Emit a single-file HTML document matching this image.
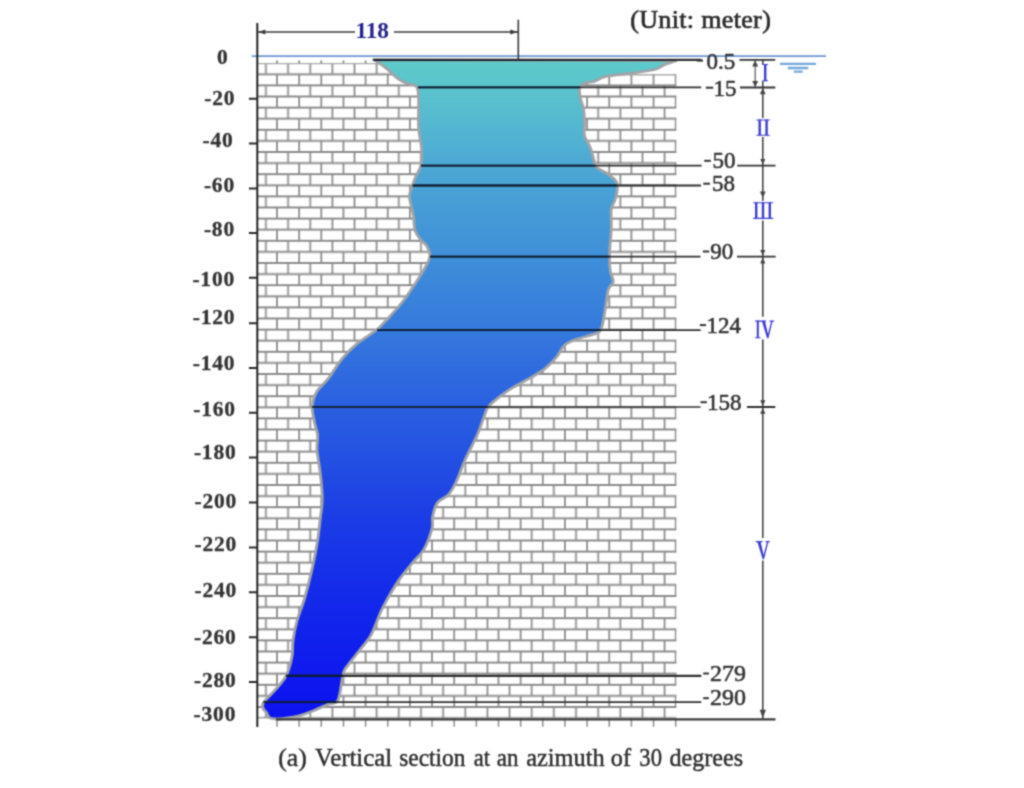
<!DOCTYPE html>
<html><head><meta charset="utf-8"><title>Vertical section at an azimuth of 30 degrees</title>
<style>
html,body{margin:0;padding:0;background:#fff;}
body{width:1024px;height:788px;overflow:hidden;font-family:"Liberation Serif",serif;}
svg{display:block;}
text{font-family:"Liberation Serif",serif;}
</style></head><body>
<svg width="1024" height="788" viewBox="0 0 1024 788">
<defs>
<linearGradient id="water" gradientUnits="userSpaceOnUse" x1="0" y1="59" x2="0" y2="719"><stop offset="0.0000" stop-color="#5dcaca"/><stop offset="0.0439" stop-color="#5ac4cc"/><stop offset="0.0924" stop-color="#55b9d0"/><stop offset="0.1621" stop-color="#4ca8d4"/><stop offset="0.2136" stop-color="#479fd5"/><stop offset="0.2985" stop-color="#3f8fd8"/><stop offset="0.4106" stop-color="#3579dd"/><stop offset="0.5273" stop-color="#2a5fe0"/><stop offset="0.6076" stop-color="#2350e2"/><stop offset="0.6985" stop-color="#1b3ce6"/><stop offset="0.8197" stop-color="#1329ea"/><stop offset="0.9348" stop-color="#0e19ee"/><stop offset="1.0000" stop-color="#0c12f0"/></linearGradient>
<pattern id="brick" x="11.20" y="63.20" width="22.15" height="22.2" patternUnits="userSpaceOnUse">
<path d="M0,0 H22.15 M0,22.2 H22.15 M0,11.1 H22.15 M11.075,0 V11.1 M0,11.1 V22.2 M22.15,11.1 V22.2" stroke="#8a8a8a" stroke-width="1.75" fill="none"/>
</pattern>
<filter id="soft" x="0" y="0" width="1024" height="788" filterUnits="userSpaceOnUse" color-interpolation-filters="sRGB"><feConvolveMatrix order="3" kernelMatrix="0.1299 0.3604 0.1299 0.3604 1 0.3604 0.1299 0.3604 0.1299" edgeMode="duplicate" preserveAlpha="false"/></filter>
<clipPath id="cavein"><path d="M373.7,59.8 C374.6,60.3 377.1,61.7 379.0,63.0 C380.9,64.3 383.2,65.8 385.4,67.6 C387.6,69.3 389.7,71.5 392.0,73.5 C394.3,75.5 396.5,77.6 399.0,79.3 C401.5,81.0 404.1,82.3 407.0,83.5 C409.9,84.7 414.7,84.2 416.6,86.7 C418.5,89.2 418.3,91.9 418.6,98.8 C418.9,105.7 418.1,119.9 418.6,128.0 C419.1,136.1 421.1,141.4 421.5,147.6 C421.9,153.8 421.9,160.3 421.0,165.0 C420.1,169.7 417.4,172.7 416.0,176.0 C414.6,179.3 413.8,181.5 412.7,184.8 C411.6,188.1 409.7,192.2 409.4,195.6 C409.1,199.0 410.4,201.7 411.0,205.0 C411.6,208.3 412.6,210.9 413.3,215.2 C414.0,219.5 413.9,226.7 415.2,230.8 C416.5,234.9 419.0,237.4 421.0,240.0 C423.0,242.6 425.5,243.7 427.0,246.4 C428.5,249.1 430.2,252.6 429.9,256.2 C429.6,259.8 427.4,263.3 425.0,267.9 C422.6,272.4 419.1,277.6 415.2,283.5 C411.3,289.4 406.5,296.8 401.6,303.0 C396.7,309.2 390.0,316.2 385.9,320.6 C381.8,325.0 381.9,325.7 377.2,329.5 C372.5,333.3 363.6,338.3 357.7,343.2 C351.8,348.1 346.9,352.9 342.0,358.8 C337.1,364.7 332.6,372.9 328.4,378.4 C324.2,383.9 319.3,387.3 316.6,392.0 C313.9,396.7 312.6,401.5 312.3,406.7 C312.0,411.9 313.8,418.6 314.7,423.3 C315.6,428.0 317.2,430.6 317.6,435.0 C318.0,439.4 316.6,443.6 317.0,450.0 C317.4,456.4 319.4,465.3 320.3,473.4 C321.2,481.5 322.3,491.3 322.3,498.8 C322.3,506.3 321.1,511.2 320.3,518.4 C319.5,525.6 318.7,533.7 317.4,541.8 C316.1,549.9 314.6,557.8 312.5,567.2 C310.4,576.6 307.3,589.0 304.7,598.0 C302.1,607.0 298.8,614.2 296.9,621.3 C294.9,628.4 293.8,634.9 293.0,640.8 C292.2,646.6 293.1,650.5 292.0,656.4 C290.9,662.2 288.9,670.4 286.1,675.9 C283.3,681.4 279.1,685.2 275.4,689.6 C271.7,694.0 265.7,699.1 263.7,702.3 C261.7,705.4 262.7,706.8 263.2,708.5 C263.7,710.2 265.4,711.0 266.5,712.5 C267.6,714.0 267.7,716.5 269.5,717.6 C271.3,718.7 274.2,718.9 277.3,719.0 C280.4,719.1 284.1,718.6 288.0,718.0 C291.9,717.4 296.5,716.5 300.8,715.3 C305.1,714.0 309.4,712.3 314.0,710.5 C318.6,708.7 324.1,706.0 328.1,704.3 C332.1,702.6 335.4,705.1 337.9,700.4 C340.3,695.7 341.5,681.4 342.8,676.0 C344.1,670.6 342.9,672.4 345.7,668.1 C348.5,663.9 355.2,656.0 359.4,650.5 C363.6,645.0 367.5,641.4 371.1,634.9 C374.7,628.4 378.1,617.6 380.9,611.5 C383.7,605.4 385.1,603.1 388.0,598.0 C390.9,592.9 394.4,586.7 398.4,580.9 C402.4,575.1 407.9,568.5 412.1,563.3 C416.3,558.1 420.5,555.3 423.8,549.6 C427.1,543.9 430.5,534.4 432.0,528.9 C433.5,523.4 431.7,520.9 432.6,516.6 C433.5,512.3 434.8,506.5 437.4,502.9 C440.0,499.2 445.2,498.3 448.4,494.7 C451.6,491.1 453.9,486.7 456.6,481.0 C459.3,475.3 461.4,468.2 464.8,460.5 C468.2,452.8 473.9,442.5 477.2,435.0 C480.5,427.5 482.6,420.2 484.5,415.5 C486.4,410.8 486.1,409.6 488.4,406.7 C490.7,403.8 494.2,401.0 498.1,397.9 C502.0,394.8 506.6,391.4 511.8,388.1 C517.0,384.9 523.9,381.6 529.4,378.4 C534.9,375.1 540.5,372.2 545.0,368.6 C549.5,365.0 553.5,360.8 556.7,356.9 C560.0,353.0 561.2,348.1 564.5,345.2 C567.8,342.3 571.1,341.3 576.3,339.3 C581.5,337.3 591.6,335.3 595.8,333.4 C600.0,331.4 600.0,332.0 601.6,327.6 C603.2,323.2 604.4,313.4 605.5,307.0 C606.6,300.6 607.1,293.6 608.4,289.4 C609.7,285.2 613.0,284.5 613.3,281.6 C613.6,278.7 611.0,276.0 610.4,271.8 C609.8,267.6 609.2,263.4 609.4,256.2 C609.5,249.0 611.0,236.6 611.3,228.8 C611.6,221.0 610.6,214.2 611.3,209.3 C611.9,204.4 614.2,203.3 615.2,199.5 C616.2,195.7 617.4,189.8 617.5,186.7 C617.6,183.6 617.3,183.0 615.7,180.9 C614.1,178.8 611.1,176.3 607.9,174.0 C604.6,171.7 598.5,169.3 596.2,167.2 C593.9,165.1 595.2,164.6 594.2,161.3 C593.2,158.1 591.9,151.9 590.3,147.7 C588.7,143.5 585.5,140.1 584.5,135.9 C583.5,131.7 584.7,126.8 584.5,122.3 C584.3,117.8 584.2,112.5 583.5,108.6 C582.8,104.7 581.1,102.2 580.5,98.8 C579.9,95.4 578.9,90.7 579.6,88.1 C580.3,85.5 582.1,84.3 584.5,83.2 C586.9,82.1 590.6,82.4 594.2,81.3 C597.8,80.2 600.0,77.7 605.9,76.4 C611.8,75.1 621.2,74.6 629.4,73.4 C637.5,72.2 648.9,71.0 654.8,69.5 C660.6,68.0 660.9,66.1 664.5,64.6 C668.1,63.1 674.3,61.4 676.3,60.7 Z"/></clipPath>
</defs>
<rect width="1024" height="788" fill="#fff"/>
<g filter="url(#soft)">

<path d="M257.3,63.2 H600 V74.3 H676.4000000000001 V718.4 H257.3 Z" fill="url(#brick)"/>
<path d="M365.60,60.4 V63.2 M343.45,60.4 V63.2 M321.30,60.4 V63.2 M299.15,60.4 V63.2 M277.00,60.4 V63.2 " stroke="#8a8a8a" stroke-width="1.75" fill="none"/>
<path d="M675.70,719 V726.8 M653.55,719 V726.8 M631.40,719 V726.8 M609.25,719 V726.8 M587.10,719 V726.8 M564.95,719 V726.8 M542.80,719 V726.8 M520.65,719 V726.8 M498.50,719 V726.8 M476.35,719 V726.8 M454.20,719 V726.8 M432.05,719 V726.8 M409.90,719 V726.8 M387.75,719 V726.8 M365.60,719 V726.8 M343.45,719 V726.8 M321.30,719 V726.8 M299.15,719 V726.8 M277.00,719 V726.8 " stroke="#8e8e8e" stroke-width="1.5" fill="none"/>
<path d="M373.7,59.8 C374.6,60.3 377.1,61.7 379.0,63.0 C380.9,64.3 383.2,65.8 385.4,67.6 C387.6,69.3 389.7,71.5 392.0,73.5 C394.3,75.5 396.5,77.6 399.0,79.3 C401.5,81.0 404.1,82.3 407.0,83.5 C409.9,84.7 414.7,84.2 416.6,86.7 C418.5,89.2 418.3,91.9 418.6,98.8 C418.9,105.7 418.1,119.9 418.6,128.0 C419.1,136.1 421.1,141.4 421.5,147.6 C421.9,153.8 421.9,160.3 421.0,165.0 C420.1,169.7 417.4,172.7 416.0,176.0 C414.6,179.3 413.8,181.5 412.7,184.8 C411.6,188.1 409.7,192.2 409.4,195.6 C409.1,199.0 410.4,201.7 411.0,205.0 C411.6,208.3 412.6,210.9 413.3,215.2 C414.0,219.5 413.9,226.7 415.2,230.8 C416.5,234.9 419.0,237.4 421.0,240.0 C423.0,242.6 425.5,243.7 427.0,246.4 C428.5,249.1 430.2,252.6 429.9,256.2 C429.6,259.8 427.4,263.3 425.0,267.9 C422.6,272.4 419.1,277.6 415.2,283.5 C411.3,289.4 406.5,296.8 401.6,303.0 C396.7,309.2 390.0,316.2 385.9,320.6 C381.8,325.0 381.9,325.7 377.2,329.5 C372.5,333.3 363.6,338.3 357.7,343.2 C351.8,348.1 346.9,352.9 342.0,358.8 C337.1,364.7 332.6,372.9 328.4,378.4 C324.2,383.9 319.3,387.3 316.6,392.0 C313.9,396.7 312.6,401.5 312.3,406.7 C312.0,411.9 313.8,418.6 314.7,423.3 C315.6,428.0 317.2,430.6 317.6,435.0 C318.0,439.4 316.6,443.6 317.0,450.0 C317.4,456.4 319.4,465.3 320.3,473.4 C321.2,481.5 322.3,491.3 322.3,498.8 C322.3,506.3 321.1,511.2 320.3,518.4 C319.5,525.6 318.7,533.7 317.4,541.8 C316.1,549.9 314.6,557.8 312.5,567.2 C310.4,576.6 307.3,589.0 304.7,598.0 C302.1,607.0 298.8,614.2 296.9,621.3 C294.9,628.4 293.8,634.9 293.0,640.8 C292.2,646.6 293.1,650.5 292.0,656.4 C290.9,662.2 288.9,670.4 286.1,675.9 C283.3,681.4 279.1,685.2 275.4,689.6 C271.7,694.0 265.7,699.1 263.7,702.3 C261.7,705.4 262.7,706.8 263.2,708.5 C263.7,710.2 265.4,711.0 266.5,712.5 C267.6,714.0 267.7,716.5 269.5,717.6 C271.3,718.7 274.2,718.9 277.3,719.0 C280.4,719.1 284.1,718.6 288.0,718.0 C291.9,717.4 296.5,716.5 300.8,715.3 C305.1,714.0 309.4,712.3 314.0,710.5 C318.6,708.7 324.1,706.0 328.1,704.3 C332.1,702.6 335.4,705.1 337.9,700.4 C340.3,695.7 341.5,681.4 342.8,676.0 C344.1,670.6 342.9,672.4 345.7,668.1 C348.5,663.9 355.2,656.0 359.4,650.5 C363.6,645.0 367.5,641.4 371.1,634.9 C374.7,628.4 378.1,617.6 380.9,611.5 C383.7,605.4 385.1,603.1 388.0,598.0 C390.9,592.9 394.4,586.7 398.4,580.9 C402.4,575.1 407.9,568.5 412.1,563.3 C416.3,558.1 420.5,555.3 423.8,549.6 C427.1,543.9 430.5,534.4 432.0,528.9 C433.5,523.4 431.7,520.9 432.6,516.6 C433.5,512.3 434.8,506.5 437.4,502.9 C440.0,499.2 445.2,498.3 448.4,494.7 C451.6,491.1 453.9,486.7 456.6,481.0 C459.3,475.3 461.4,468.2 464.8,460.5 C468.2,452.8 473.9,442.5 477.2,435.0 C480.5,427.5 482.6,420.2 484.5,415.5 C486.4,410.8 486.1,409.6 488.4,406.7 C490.7,403.8 494.2,401.0 498.1,397.9 C502.0,394.8 506.6,391.4 511.8,388.1 C517.0,384.9 523.9,381.6 529.4,378.4 C534.9,375.1 540.5,372.2 545.0,368.6 C549.5,365.0 553.5,360.8 556.7,356.9 C560.0,353.0 561.2,348.1 564.5,345.2 C567.8,342.3 571.1,341.3 576.3,339.3 C581.5,337.3 591.6,335.3 595.8,333.4 C600.0,331.4 600.0,332.0 601.6,327.6 C603.2,323.2 604.4,313.4 605.5,307.0 C606.6,300.6 607.1,293.6 608.4,289.4 C609.7,285.2 613.0,284.5 613.3,281.6 C613.6,278.7 611.0,276.0 610.4,271.8 C609.8,267.6 609.2,263.4 609.4,256.2 C609.5,249.0 611.0,236.6 611.3,228.8 C611.6,221.0 610.6,214.2 611.3,209.3 C611.9,204.4 614.2,203.3 615.2,199.5 C616.2,195.7 617.4,189.8 617.5,186.7 C617.6,183.6 617.3,183.0 615.7,180.9 C614.1,178.8 611.1,176.3 607.9,174.0 C604.6,171.7 598.5,169.3 596.2,167.2 C593.9,165.1 595.2,164.6 594.2,161.3 C593.2,158.1 591.9,151.9 590.3,147.7 C588.7,143.5 585.5,140.1 584.5,135.9 C583.5,131.7 584.7,126.8 584.5,122.3 C584.3,117.8 584.2,112.5 583.5,108.6 C582.8,104.7 581.1,102.2 580.5,98.8 C579.9,95.4 578.9,90.7 579.6,88.1 C580.3,85.5 582.1,84.3 584.5,83.2 C586.9,82.1 590.6,82.4 594.2,81.3 C597.8,80.2 600.0,77.7 605.9,76.4 C611.8,75.1 621.2,74.6 629.4,73.4 C637.5,72.2 648.9,71.0 654.8,69.5 C660.6,68.0 660.9,66.1 664.5,64.6 C668.1,63.1 674.3,61.4 676.3,60.7 Z" fill="url(#water)" stroke="#a0a3a8" stroke-width="2.8" stroke-linejoin="round"/>
<line x1="251.7" y1="56.1" x2="826" y2="56.1" stroke="#6b96cf" stroke-width="1.7"/>
<line x1="373" y1="59.9" x2="701.5" y2="59.9" stroke="#303030" stroke-width="2.1"/>
<line x1="418" y1="87.3" x2="701.2" y2="87.3" stroke="#303030" stroke-width="1.7"/>
<line x1="421" y1="165.7" x2="701.6" y2="165.7" stroke="#303030" stroke-width="1.7"/>
<line x1="412.5" y1="185.4" x2="701" y2="185.4" stroke="#303030" stroke-width="2.0"/>
<line x1="430" y1="256.6" x2="700.5" y2="256.6" stroke="#303030" stroke-width="1.7"/>
<line x1="377" y1="330.1" x2="700.7" y2="330.1" stroke="#303030" stroke-width="1.7"/>
<line x1="312" y1="407.0" x2="700.5" y2="407.0" stroke="#303030" stroke-width="1.7"/>
<line x1="286" y1="675.9" x2="701.3" y2="675.9" stroke="#303030" stroke-width="2.2"/>
<line x1="263.5" y1="702.1" x2="701.3" y2="702.1" stroke="#303030" stroke-width="1.9"/>
<g clip-path="url(#cavein)"><line x1="373" y1="59.9" x2="701.5" y2="59.9" stroke="#0a1c34" stroke-width="2.1"/><line x1="418" y1="87.3" x2="701.2" y2="87.3" stroke="#0a1c34" stroke-width="1.7"/><line x1="421" y1="165.7" x2="701.6" y2="165.7" stroke="#0a1c34" stroke-width="1.7"/><line x1="412.5" y1="185.4" x2="701" y2="185.4" stroke="#0a1c34" stroke-width="2.0"/><line x1="430" y1="256.6" x2="700.5" y2="256.6" stroke="#0a1c34" stroke-width="1.7"/><line x1="377" y1="330.1" x2="700.7" y2="330.1" stroke="#0a1c34" stroke-width="1.7"/><line x1="312" y1="407.0" x2="700.5" y2="407.0" stroke="#0a1c34" stroke-width="1.7"/><line x1="286" y1="675.9" x2="701.3" y2="675.9" stroke="#0a1c34" stroke-width="2.2"/><line x1="263.5" y1="702.1" x2="701.3" y2="702.1" stroke="#0a1c34" stroke-width="1.9"/></g>
<line x1="276" y1="719.4" x2="775.5" y2="719.4" stroke="#3a3a3a" stroke-width="2.2"/>
<line x1="257.3" y1="23" x2="257.3" y2="727" stroke="#222" stroke-width="2"/>
<path d="M248.9,98.7 H257.3 M248.9,143.5 H257.3 M248.9,188.5 H257.3 M248.9,233.1 H257.3 M248.9,277.7 H257.3 M248.9,323.2 H257.3 M248.9,367.9 H257.3 M248.9,412.7 H257.3 M248.9,457.5 H257.3 M248.9,502.6 H257.3 M248.9,547.6 H257.3 M248.9,592.2 H257.3 M248.9,637.3 H257.3 M248.9,682.0 H257.3 " stroke="#2a2a2a" stroke-width="2" fill="none"/>
<path d="M257.3,32 H355 M394,32 H518 M518.3,19.7 V59" stroke="#3a3a3a" stroke-width="1.6" fill="none"/>
<path d="M258.3,32 l7,-2.4 v4.8 z M517.3,32 l-7,-2.4 v4.8 z" fill="#3a3a3a"/>
<path d="M762.8,60 V64.2 M762.8,81.3 V118 M762.8,137 V201 M762.8,220.5 V316.8 M762.8,339.6 V538 M762.8,560.5 V719 " stroke="#3a3a3a" stroke-width="1.5" fill="none"/>
<path d="M755.2,60 V87.5" stroke="#555" stroke-width="1.2" fill="none"/>
<path d="M755.2,60.6 L752.2,66.6 L758.2,66.6 Z M755.2,87.0 L752.2,81.0 L758.2,81.0 Z M762.8,88.0 L759.9,94.3 L765.6999999999999,94.3 Z M762.8,164.6 L760.1999999999999,159.0 L765.4,159.0 Z M762.8,197.7 L759.9,191.39999999999998 L765.6999999999999,191.39999999999998 Z M762.8,255.8 L760.1999999999999,250.0 L765.4,250.0 Z M762.8,257.6 L760.1999999999999,263.40000000000003 L765.4,263.40000000000003 Z M762.8,406.0 L760.1999999999999,400.2 L765.4,400.2 Z M762.8,408.0 L760.1999999999999,413.8 L765.4,413.8 Z M762.8,718.2 L759.6999999999999,709.7 L765.9,709.7 Z " fill="#444"/>
<path d="M739.5,59.9 H775.3 M740,87.5 H775.3 M737.2,165.7 H775.5 M737,256.6 H775.7 M747,407.0 H775.3 " stroke="#333" stroke-width="1.8" fill="none"/>
<path d="M780,63.8 H816 M787.8,68 H808.2 M793.8,71.6 H802.6" stroke="#74a8dc" stroke-width="2.3" fill="none"/>
<path d="M765.2,64 V81.2" stroke="#3c3cd0" stroke-width="2.4" fill="none"/><path d="M762.2,64.5 H768 M762.2,80.8 H768" stroke="#3c3cd0" stroke-width="1.1" fill="none"/>
<path d="M759.7,119.5 V135.5 M766.6,119.5 V135.5" stroke="#3c3cd0" stroke-width="2.4" fill="none"/><path d="M756.4,120 H769.8 M756.4,135.2 H769.8" stroke="#3c3cd0" stroke-width="1.1" fill="none"/>
<path d="M756.2,202.3 V218.8 M763,202.3 V218.8 M769.8,202.3 V218.8" stroke="#3c3cd0" stroke-width="2.4" fill="none"/><path d="M753.1,202.8 H773.2 M753.1,218.4 H773.2" stroke="#3c3cd0" stroke-width="1.1" fill="none"/>
<path d="M757.8,320.6 V338.1" stroke="#3c3cd0" stroke-width="2.0" fill="none"/><path d="M755.2,321.1 H760.6 M755.2,337.7 H760.6 M760.6,321.1 H766 M769.5,321.1 H774" stroke="#3c3cd0" stroke-width="1.1" fill="none"/>
<path d="M761.8,320.8 L767.1,338.2 L768.4,338.2 L772.7,320.8 L771.3,320.8 L768.0,334.0 L764.9,320.8 Z" fill="#3c3cd0"/>
<path d="M755.6,541.6 H762.5 M765.5,541.6 H769.8" stroke="#3c3cd0" stroke-width="1.1" fill="none"/>
<path d="M757.2,541.3 L762.7,559.2 L764.0,559.2 L768.6,541.3 L767.2,541.3 L763.6,555.0 L760.5,541.3 Z" fill="#3c3cd0"/>
<text x="217.0" y="64.4" font-size="21.5" font-weight="bold" letter-spacing="0.8" fill="#333" stroke="#333" stroke-width="0.3">0</text>
<text x="204.2" y="104.8" font-size="21.5" font-weight="bold" letter-spacing="0.8" fill="#333" stroke="#333" stroke-width="0.3">-20</text>
<text x="202.6" y="147.0" font-size="21.5" font-weight="bold" letter-spacing="0.8" fill="#333" stroke="#333" stroke-width="0.3">-40</text>
<text x="203.9" y="191.9" font-size="21.5" font-weight="bold" letter-spacing="0.8" fill="#333" stroke="#333" stroke-width="0.3">-60</text>
<text x="203.9" y="236.3" font-size="21.5" font-weight="bold" letter-spacing="0.8" fill="#333" stroke="#333" stroke-width="0.3">-80</text>
<text x="192.4" y="285.6" font-size="21.5" font-weight="bold" letter-spacing="0.8" fill="#333" stroke="#333" stroke-width="0.3">-100</text>
<text x="192.8" y="324.0" font-size="21.5" font-weight="bold" letter-spacing="0.8" fill="#333" stroke="#333" stroke-width="0.3">-120</text>
<text x="192.8" y="369.6" font-size="21.5" font-weight="bold" letter-spacing="0.8" fill="#333" stroke="#333" stroke-width="0.3">-140</text>
<text x="193.2" y="415.8" font-size="21.5" font-weight="bold" letter-spacing="0.8" fill="#333" stroke="#333" stroke-width="0.3">-160</text>
<text x="193.9" y="459.0" font-size="21.5" font-weight="bold" letter-spacing="0.8" fill="#333" stroke="#333" stroke-width="0.3">-180</text>
<text x="194.5" y="507.7" font-size="21.5" font-weight="bold" letter-spacing="0.8" fill="#333" stroke="#333" stroke-width="0.3">-200</text>
<text x="194.5" y="550.6" font-size="21.5" font-weight="bold" letter-spacing="0.8" fill="#333" stroke="#333" stroke-width="0.3">-220</text>
<text x="194.5" y="596.7" font-size="21.5" font-weight="bold" letter-spacing="0.8" fill="#333" stroke="#333" stroke-width="0.3">-240</text>
<text x="194.0" y="644.4" font-size="21.5" font-weight="bold" letter-spacing="0.8" fill="#333" stroke="#333" stroke-width="0.3">-260</text>
<text x="194.0" y="687.0" font-size="21.5" font-weight="bold" letter-spacing="0.8" fill="#333" stroke="#333" stroke-width="0.3">-280</text>
<text x="193.6" y="721.0" font-size="21.5" font-weight="bold" letter-spacing="0.8" fill="#333" stroke="#333" stroke-width="0.3">-300</text>
<text x="355.4" y="37.9" font-size="23.5" font-weight="bold" fill="#23238e" textLength="33.6" lengthAdjust="spacingAndGlyphs">118</text>
<text x="630.2" y="28.1" font-size="26" fill="#2c2c2c" stroke="#2c2c2c" stroke-width="0.7" textLength="140.6" lengthAdjust="spacing">(Unit: meter)</text>
<text x="278.3" y="765.5" font-size="24.8" fill="#2e2e2e" stroke="#2e2e2e" stroke-width="0.45" textLength="28.5" lengthAdjust="spacingAndGlyphs">(a)</text>
<text x="315.0" y="765.5" font-size="24.8" fill="#2e2e2e" stroke="#2e2e2e" stroke-width="0.45" textLength="77.2" lengthAdjust="spacingAndGlyphs">Vertical</text>
<text x="399.2" y="765.5" font-size="24.8" fill="#2e2e2e" stroke="#2e2e2e" stroke-width="0.45" textLength="66.3" lengthAdjust="spacingAndGlyphs">section</text>
<text x="473.7" y="765.5" font-size="24.8" fill="#2e2e2e" stroke="#2e2e2e" stroke-width="0.45" textLength="16.2" lengthAdjust="spacingAndGlyphs">at</text>
<text x="496.8" y="765.5" font-size="24.8" fill="#2e2e2e" stroke="#2e2e2e" stroke-width="0.45" textLength="21.7" lengthAdjust="spacingAndGlyphs">an</text>
<text x="526.3" y="765.5" font-size="24.8" fill="#2e2e2e" stroke="#2e2e2e" stroke-width="0.45" textLength="78.3" lengthAdjust="spacingAndGlyphs">azimuth</text>
<text x="610.8" y="765.5" font-size="24.8" fill="#2e2e2e" stroke="#2e2e2e" stroke-width="0.45" textLength="20.2" lengthAdjust="spacingAndGlyphs">of</text>
<text x="639.3" y="765.5" font-size="24.8" fill="#2e2e2e" stroke="#2e2e2e" stroke-width="0.45" textLength="22.7" lengthAdjust="spacingAndGlyphs">30</text>
<text x="669.5" y="765.5" font-size="24.8" fill="#2e2e2e" stroke="#2e2e2e" stroke-width="0.45" textLength="73.6" lengthAdjust="spacingAndGlyphs">degrees</text>
<text x="706.5" y="68.9" font-size="23" fill="#333" stroke="#333" stroke-width="0.55">0.5</text>
<line x1="697" y1="60.6" x2="703" y2="60.6" stroke="#333" stroke-width="2"/>
<text x="713.6" y="95.5" font-size="23" fill="#333" stroke="#333" stroke-width="0.55">15</text>
<line x1="705.8" y1="87.7" x2="713.2" y2="87.7" stroke="#333" stroke-width="2"/>
<text x="712.6" y="168.3" font-size="23" fill="#333" stroke="#333" stroke-width="0.55">50</text>
<line x1="704.2" y1="160.8" x2="710.8" y2="160.8" stroke="#333" stroke-width="2"/>
<text x="712.1" y="190.7" font-size="23" fill="#333" stroke="#333" stroke-width="0.55">58</text>
<line x1="703.3" y1="183.7" x2="710" y2="183.7" stroke="#333" stroke-width="2"/>
<text x="710.3" y="258.9" font-size="23" fill="#333" stroke="#333" stroke-width="0.55">90</text>
<line x1="702.8" y1="251.5" x2="709.2" y2="251.5" stroke="#333" stroke-width="2"/>
<text x="706.6" y="332.8" font-size="23" fill="#333" stroke="#333" stroke-width="0.55">124</text>
<line x1="699.9" y1="325.1" x2="706" y2="325.1" stroke="#333" stroke-width="2"/>
<text x="706.9" y="409.7" font-size="23" fill="#333" stroke="#333" stroke-width="0.55">158</text>
<line x1="700.5" y1="402.2" x2="706.8" y2="402.2" stroke="#333" stroke-width="2"/>
<text x="710.1" y="680.5" font-size="24" fill="#333" stroke="#333" stroke-width="0.55">279</text>
<line x1="703.2" y1="673.5" x2="708.9" y2="673.5" stroke="#333" stroke-width="2"/>
<text x="710.1" y="705.2" font-size="24" fill="#333" stroke="#333" stroke-width="0.55">290</text>
<line x1="703.2" y1="698.2" x2="708.9" y2="698.2" stroke="#333" stroke-width="2"/>
</g>
</svg></body></html>
